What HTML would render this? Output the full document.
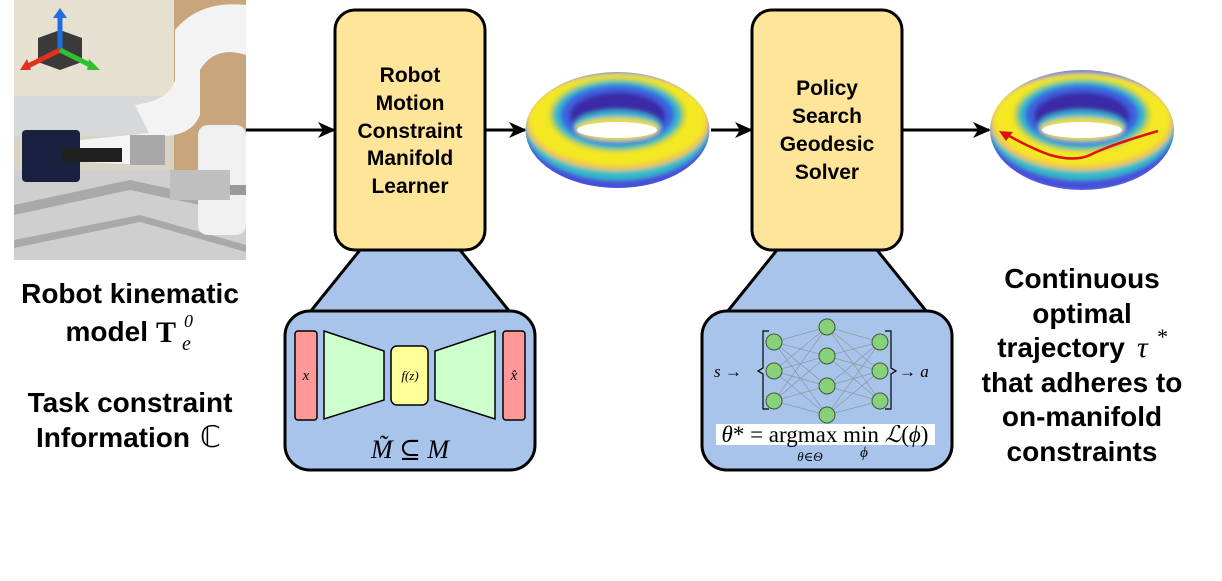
<!DOCTYPE html>
<html><head><meta charset="utf-8"><style>
html,body{margin:0;padding:0;background:#fff;}
svg{display:block;}
.t{font-family:"Liberation Sans",sans-serif;font-weight:bold;fill:#000;text-anchor:middle;}
.m{font-family:"Liberation Serif","DejaVu Serif",serif;font-style:italic;fill:#000;}
</style></head><body>
<svg width="1222" height="581" viewBox="0 0 1222 581" xmlns="http://www.w3.org/2000/svg">
<defs>
<filter id="bl" x="-10%" y="-10%" width="120%" height="120%"><feGaussianBlur stdDeviation="2.2"/></filter>
<clipPath id="c1"><ellipse cx="617.5" cy="130" rx="92" ry="58"/></clipPath>
<clipPath id="c2"><ellipse cx="1082" cy="130" rx="92" ry="60"/></clipPath>
<marker id="ar" markerWidth="18" markerHeight="16" refX="16" refY="8" orient="auto" markerUnits="userSpaceOnUse"><path d="M0,0 L18,8 L0,16 L5,8 z" fill="#000"/></marker>
<g id="torus">
<ellipse cx="0" cy="0" rx="96" ry="62" fill="#4650d8"/>
<ellipse cx="0" cy="-4" rx="93" ry="54" fill="#30bcc8"/>
<ellipse cx="0" cy="-8" rx="92" ry="49" fill="#f0c848"/>
<ellipse cx="0" cy="-10" rx="88" ry="45" fill="#f4e820"/>
<ellipse cx="0" cy="-15" rx="68" ry="37" fill="#b0d040"/>
<ellipse cx="0" cy="-15" rx="64" ry="34" fill="#30b8c8"/>
<ellipse cx="0" cy="-15" rx="57" ry="30" fill="#3e62e0"/>
<ellipse cx="0" cy="-14" rx="48" ry="24" fill="#3a2aa8"/>
<ellipse cx="0" cy="-4" rx="44" ry="16" fill="#38b0d0"/>
<ellipse cx="0" cy="-1" rx="42" ry="12" fill="#e8dc40"/>
</g>
</defs>

<!-- photo -->
<rect x="14" y="0" width="232" height="260" fill="#d9d3c6"/>
<rect x="14" y="0" width="160" height="100" fill="#e6e0d0"/>
<rect x="174" y="0" width="72" height="260" fill="#c8a57c"/>
<rect x="14" y="96" width="160" height="40" fill="#d6d8da"/>
<rect x="14" y="170" width="232" height="90" fill="#cfcfcf"/>
<path d="M14,205 L130,180 L246,205 L246,215 L130,190 L14,215z" fill="#a9a9a9"/>
<path d="M14,240 L140,215 L246,245 L246,252 L140,222 L14,248z" fill="#a9a9a9"/>
<path d="M175,30 Q200,0 246,5 L246,55 Q215,45 200,70 L200,115 Q190,140 150,135 L135,105 Q170,100 175,80z" fill="#f3f3f3"/>
<rect x="198" y="125" width="48" height="110" rx="10" fill="#f0f0f0"/>
<rect x="198" y="185" width="48" height="10" fill="#9a9a9a"/>
<path d="M80,140 L150,133 L165,148 L150,165 L80,162z" fill="#f5f5f5"/>
<rect x="130" y="135" width="35" height="30" fill="#a8a8a8"/>
<rect x="22" y="130" width="58" height="52" rx="4" fill="#1a2040"/>
<rect x="62" y="148" width="60" height="14" fill="#202020"/>
<rect x="170" y="170" width="60" height="30" fill="#bfbfbf"/>
<path d="M60,30 L82,38 L82,62 L60,70 L38,62 L38,38z" fill="#3a3a3a"/>
<path d="M60,50 L60,14" stroke="#1e6ee0" stroke-width="5"/><path d="M53,18 L60,8 L67,18z" fill="#1e6ee0"/>
<path d="M60,50 L28,66" stroke="#e03020" stroke-width="5"/><path d="M20,70 L27,59 L31,70z" fill="#e03020"/>
<path d="M60,50 L92,66" stroke="#30c030" stroke-width="5"/><path d="M100,70 L89,59 L87,70z" fill="#30c030"/>

<!-- arrows -->
<g stroke="#000" stroke-width="3" fill="none">
<line x1="246" y1="130" x2="334" y2="130" marker-end="url(#ar)"/>
<line x1="486" y1="130" x2="525" y2="130" marker-end="url(#ar)"/>
<line x1="711" y1="130" x2="751" y2="130" marker-end="url(#ar)"/>
<line x1="903" y1="130" x2="989" y2="130" marker-end="url(#ar)"/>
</g>

<!-- tori -->
<g clip-path="url(#c1)"><g filter="url(#bl)"><use href="#torus" x="617.5" y="130"/></g></g>
<ellipse cx="617" cy="130" rx="40" ry="8" fill="#fff"/>
<g clip-path="url(#c2)"><g filter="url(#bl)"><use href="#torus" x="1082" y="130"/></g></g>
<ellipse cx="1082" cy="130" rx="40" ry="8" fill="#fff"/>
<path d="M1158,131 Q1110,145 1090,155 Q1075,162 1050,155 Q1030,148 1004,133" stroke="#e01010" stroke-width="2.5" fill="none"/>
<path d="M999,131 L1013,132 L1006,141z" fill="#e01010"/>

<!-- trapezoids -->
<path d="M360,250 L460,250 L510,312 L310,312z" fill="#a9c4eb" stroke="#000" stroke-width="3"/>
<path d="M777,250 L877,250 L927,312 L727,312z" fill="#a9c4eb" stroke="#000" stroke-width="3"/>

<!-- main boxes -->
<rect x="335" y="10" width="150" height="240" rx="20" fill="#ffe599" stroke="#000" stroke-width="3"/>
<text class="t" font-size="21"><tspan x="410" y="82">Robot</tspan><tspan x="410" y="110">Motion</tspan><tspan x="410" y="138">Constraint</tspan><tspan x="410" y="165">Manifold</tspan><tspan x="410" y="193">Learner</tspan></text>
<rect x="752" y="10" width="150" height="240" rx="20" fill="#ffe599" stroke="#000" stroke-width="3"/>
<text class="t" font-size="21"><tspan x="827" y="95">Policy</tspan><tspan x="827" y="123">Search</tspan><tspan x="827" y="151">Geodesic</tspan><tspan x="827" y="179">Solver</tspan></text>

<!-- lower box 1 -->
<rect x="285" y="311" width="250" height="159" rx="25" fill="#a9c4eb" stroke="#000" stroke-width="3"/>
<rect x="295" y="331" width="22" height="89" rx="3" fill="#ff9999" stroke="#000" stroke-width="1.5"/>
<rect x="503" y="331" width="22" height="89" rx="3" fill="#ff9999" stroke="#000" stroke-width="1.5"/>
<path d="M324,331 L384,351 L384,400 L324,419z" fill="#ccffcc" stroke="#000" stroke-width="1.5"/>
<path d="M495,331 L435,351 L435,400 L495,419z" fill="#ccffcc" stroke="#000" stroke-width="1.5"/>
<rect x="391" y="346" width="37" height="59" rx="6" fill="#ffff99" stroke="#000" stroke-width="1.5"/>
<text class="m" font-size="15" x="306" y="380" text-anchor="middle">x</text>
<text class="m" font-size="15" x="514" y="380" text-anchor="middle">x̂</text>
<text class="m" font-size="13" x="410" y="380" text-anchor="middle">f(z)</text>
<text class="m" font-size="26" x="410" y="458" text-anchor="middle">M̃ ⊆ M</text>

<!-- lower box 2 -->
<rect x="702" y="311" width="250" height="159" rx="25" fill="#a9c4eb" stroke="#000" stroke-width="3"/>
<g stroke="#888" stroke-width="0.8" opacity="0.7">
<path d="M774,342L827,327M774,342L827,356M774,342L827,386M774,342L827,415M774,371L827,327M774,371L827,356M774,371L827,386M774,371L827,415M774,401L827,327M774,401L827,356M774,401L827,386M774,401L827,415M880,342L827,327M880,342L827,356M880,342L827,386M880,342L827,415M880,371L827,327M880,371L827,356M880,371L827,386M880,371L827,415M880,401L827,327M880,401L827,356M880,401L827,386M880,401L827,415"/>
</g>
<g fill="#88d07a" stroke="#3a5a3a" stroke-width="1">
<circle cx="774" cy="342" r="8"/><circle cx="774" cy="371" r="8"/><circle cx="774" cy="401" r="8"/>
<circle cx="827" cy="327" r="8"/><circle cx="827" cy="356" r="8"/><circle cx="827" cy="386" r="8"/><circle cx="827" cy="415" r="8"/>
<circle cx="880" cy="342" r="8"/><circle cx="880" cy="371" r="8"/><circle cx="880" cy="401" r="8"/>
</g>
<path d="M769,331 L763,331 L763,368 L758,371 L763,374 L763,409 L769,409" stroke="#000" stroke-width="1.2" fill="none"/>
<path d="M885,331 L891,331 L891,368 L896,371 L891,374 L891,409 L885,409" stroke="#000" stroke-width="1.2" fill="none"/>
<text class="m" font-size="17" x="714" y="377">s →</text>
<text class="m" font-size="17" x="899" y="377">→ a</text>
<rect x="716" y="424" width="219" height="21" fill="#fff"/>
<text font-family="Liberation Serif,serif" font-size="23" x="825" y="442" text-anchor="middle"><tspan font-style="italic">θ</tspan>* = argmax min <tspan font-style="italic">ℒ</tspan>(<tspan font-style="italic">ϕ</tspan>)</text>
<text class="m" font-size="13" x="810" y="461" text-anchor="middle">θ∈Θ</text>
<text class="m" font-size="15" x="864" y="457" text-anchor="middle">ϕ</text>

<!-- side texts -->
<text class="t" font-size="28"><tspan x="130" y="303">Robot kinematic</tspan></text>
<text class="t" font-size="28" x="148" y="341" style="text-anchor:end">model</text>
<text font-family="Liberation Serif,serif" font-weight="bold" font-size="30" x="156" y="342">T</text>
<text class="m" font-size="18" x="184" y="327">0</text>
<text class="m" font-size="20" x="182" y="350">e</text>
<text class="t" font-size="28"><tspan x="130" y="412">Task constraint</tspan><tspan x="113" y="447">Information</tspan></text>
<text font-family="DejaVu Sans,sans-serif" font-size="30" x="200" y="447">ℂ</text>
<text class="t" font-size="28"><tspan x="1082" y="288">Continuous</tspan><tspan x="1082" y="323">optimal</tspan><tspan x="1061" y="357">trajectory</tspan><tspan x="1082" y="392">that adheres to</tspan><tspan x="1082" y="426">on-manifold</tspan><tspan x="1082" y="461">constraints</tspan></text>
<text class="m" font-size="30" x="1137" y="357">τ</text>
<text class="m" font-size="22" x="1156" y="344">*</text>
</svg>
</body></html>
